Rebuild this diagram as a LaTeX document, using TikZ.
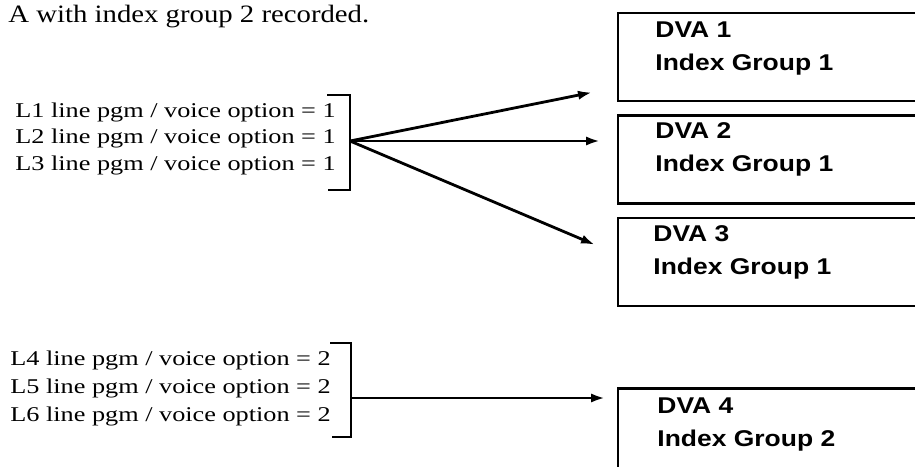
\documentclass[tikz,border=0pt]{standalone}
\usepackage{fontspec}
\setmainfont{Liberation Serif}[FakeStretch=1.25]
\newfontfamily\headfont{Liberation Serif}[FakeStretch=1.15]
\newfontfamily\dvafont{Liberation Sans}[FakeStretch=1.16]
\usetikzlibrary{positioning,arrows.meta}

\begin{document}
\begin{tikzpicture}[
    x=0.5pt,
    y=-0.5pt,
    node distance=6pt,
    >={Latex[length=7pt,width=4.6pt]},
    linetxt/.style={
        anchor=base west,
        inner sep=0pt,
        font=\fontsize{10.5}{13}\selectfont
    },
    dvabox/.style={
        draw,
        line width=1.2pt,
        minimum width=156pt,
        minimum height=44pt
    },
    dvatext/.style={
        anchor=north west,
        inner sep=0pt,
        align=left,
        font=\dvafont\bfseries\fontsize{11.4}{16.5}\selectfont
    },
    bracket/.style={
        line width=1.2pt
    },
    arrow/.style={
        ->,
        line width=1.4pt
    }
]

\useasboundingbox (0,0) rectangle (915,466);

% caption line
\node[
    anchor=base west,
    inner sep=0pt,
    font=\headfont\fontsize{12.5}{15}\selectfont
] (caption) at (8,22)
{A with index group 2 recorded.};

% DVA boxes
\node[
    dvabox,
    anchor=north west
] (dva1) at (617,12) {};

\node[
    dvabox,
    below=of dva1
] (dva2) {};

\node[
    dvabox,
    below=of dva2
] (dva3) {};

\node[
    dvabox,
    below=40pt of dva3
] (dva4) {};

\node[dvatext] (dva1txt) at ([xshift=19pt,yshift=-4.5pt]dva1.north west)
{DVA 1\\Index Group 1};

\node[dvatext] (dva2txt) at ([xshift=19pt,yshift=-4pt]dva2.north west)
{DVA 2\\Index Group 1};

\node[dvatext] (dva3txt) at ([xshift=18pt,yshift=-4pt]dva3.north west)
{DVA 3\\Index Group 1};

\node[dvatext] (dva4txt) at ([xshift=20pt,yshift=-5pt]dva4.north west)
{DVA 4\\Index Group 2};

% line programs
\node[linetxt] (l1) at (15,117) {L1 line pgm / voice option = 1};
\node[linetxt] (l2) at (15,143) {L2 line pgm / voice option = 1};
\node[linetxt] (l3) at (15,170) {L3 line pgm / voice option = 1};

\node[linetxt] (l4) at (10,365) {L4 line pgm / voice option = 2};
\node[linetxt] (l5) at (10,393) {L5 line pgm / voice option = 2};
\node[linetxt] (l6) at (10,421) {L6 line pgm / voice option = 2};

% brackets
\coordinate (fork1) at (350,141);
\coordinate (fork2) at (350,398);

\draw[bracket] (327,95) -- (350,95) -- (350,190) -- (328,190);
\draw[bracket] (330,343) -- (351,343) -- (351,437) -- (332,437);

% arrows
\draw[arrow]
(fork1) -- ([xshift=-12.5pt,yshift=5pt]dva1.south west);

\draw[
    arrow,
    shorten >=8.5pt
]
(fork1) -- (fork1 -| dva2.west);

\draw[arrow]
(fork1) -- ([xshift=-11pt,yshift=-14pt]dva3.north west);

\draw[
    arrow,
    shorten >=6pt
]
(fork2) -- (fork2 -| dva4.west);

\end{tikzpicture}
\end{document}
